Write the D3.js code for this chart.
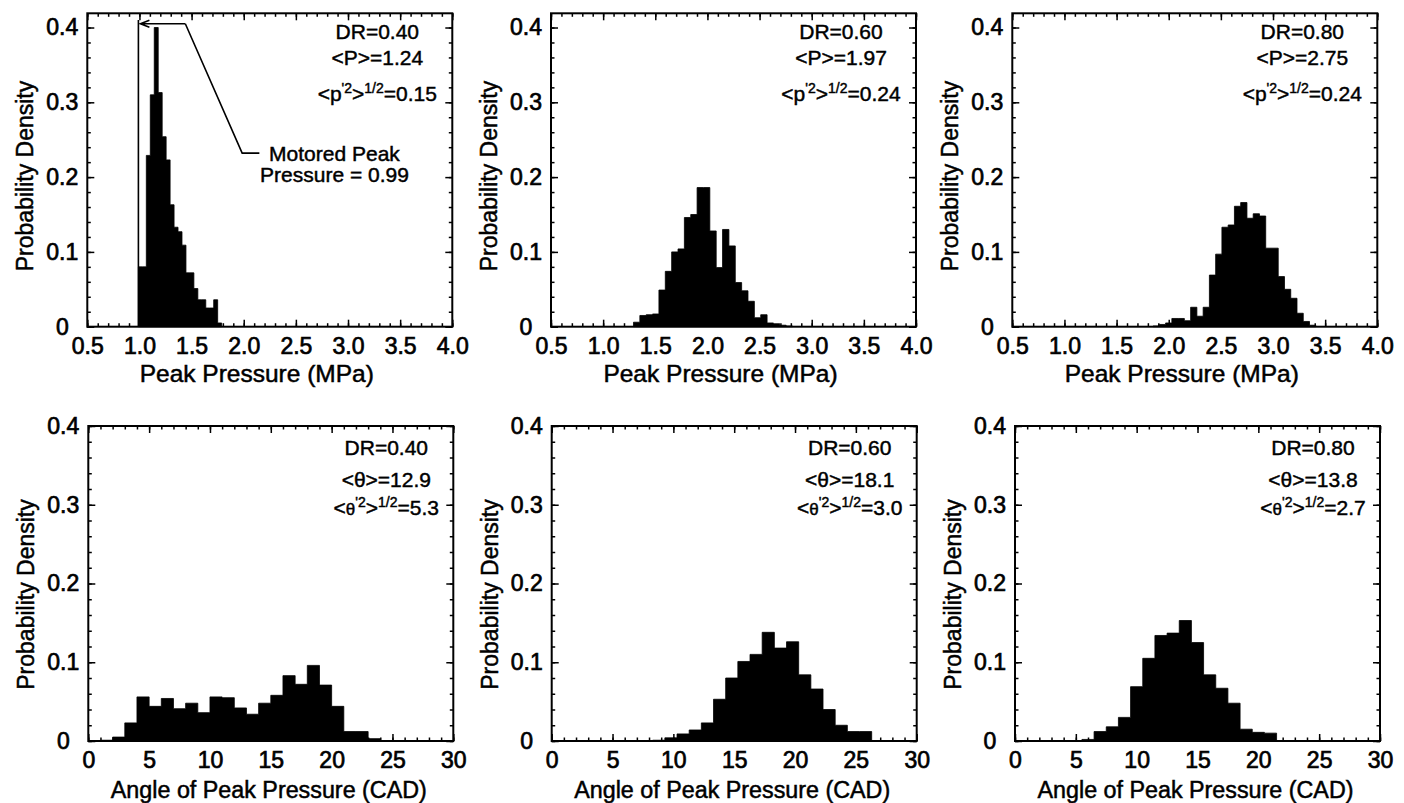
<!DOCTYPE html>
<html lang="en">
<head>
<meta charset="utf-8">
<title>Peak pressure histograms</title>
<script src="https://cdn.jsdelivr.net/npm/d3@7"></script>
<style>
    body { margin: 0; background: #fff; }
    svg { font-family: "Liberation Sans", Arial, Helvetica, sans-serif; }
    .tick text { font-size: 23px; fill: #000; stroke: #000; stroke-width: 0.7px; }
    .tick line { stroke: #000; stroke-width: 1.5px; }
    .frame { fill: none; stroke: #000; stroke-width: 2px; }
    .hist { fill: #000; stroke: #000; stroke-width: 0.8px; }
    .title { fill: #000; stroke: #000; stroke-width: 0.5px; }
    .stat { font-size: 21px; fill: #000; stroke: #000; stroke-width: 0.45px; }
    .note { fill: none; stroke: #000; stroke-width: 1.6px; }
</style>
</head>
<body>
<script>

    // ---- data ----
    var drLabels = ["DR=0.40", "DR=0.60", "DR=0.80"];
    var pMean = ["1.24", "1.97", "2.75"];
    var pRms = ["0.15", "0.24", "0.24"];
    var thMean = ["12.9", "18.1", "13.8"];
    var thRms = ["5.3", "3.0", "2.7"];

    // peak pressure histograms (MPa): first bin edge, bin width, densities
    var pBinStart = [0.99, 1.291, 1.85];
    var pBinWidth = [0.038, 0.061, 0.06];
    var pDensity040 = [0.080, 0.080, 0.229, 0.310, 0.400, 0.313, 0.254, 0.223, 0.163, 0.133,
                       0.127, 0.109, 0.072, 0.072, 0.051, 0.036, 0.036, 0.025, 0.025, 0.036, 0.005];
    var pDensity060 = [0.006, 0.015, 0.016, 0.017, 0.049, 0.074, 0.100, 0.104, 0.146, 0.150,
                       0.186, 0.186, 0.128, 0.079, 0.130, 0.108, 0.059, 0.048, 0.034, 0.012,
                       0.016, 0.005, 0.004, 0.002, 0.001];
    var pDensity080 = [0.001, 0.003, 0.005, 0.011, 0.011, 0.008, 0.026, 0.014, 0.026, 0.069,
                       0.097, 0.133, 0.136, 0.161, 0.166, 0.145, 0.151, 0.148, 0.105, 0.105,
                       0.067, 0.050, 0.038, 0.018, 0.007, 0.002];

    // angle of peak pressure histograms (CAD)
    var aBinStart = [1, 8.3, 5.5];
    var aBinWidth = [1, 1, 1];
    var aDensity040 = [0.001, 0.005, 0.023, 0.056, 0.044, 0.054, 0.041, 0.048, 0.036, 0.056,
                       0.055, 0.042, 0.034, 0.048, 0.058, 0.083, 0.072, 0.096, 0.071, 0.044,
                       0.012, 0.012, 0.003];
    var aDensity060 = [0.001, 0.004, 0.009, 0.014, 0.023, 0.053, 0.080, 0.101, 0.110, 0.138,
                       0.118, 0.126, 0.084, 0.066, 0.040, 0.020, 0.012, 0.012];
    var aDensity080 = [0.002, 0.012, 0.018, 0.030, 0.069, 0.105, 0.134, 0.137, 0.153, 0.125,
                       0.084, 0.067, 0.048, 0.015, 0.011, 0.010];

    var pTicks = [0.5, 1.0, 1.5, 2.0, 2.5, 3.0, 3.5, 4.0];
    var aTicks = [0, 5, 10, 15, 20, 25, 30];
    var yTicks = [0, 0.1, 0.2, 0.3, 0.4];

    // motored peak pressure marker (data units of the first panel)
    var motoredPeak = 0.99;
    var noteLine = [[1.44, 0.405], [1.985, 0.232], [2.15, 0.232]];
    var noteText = ["Motored Peak", "Pressure = 0.99"];

    // ---- layout ----
    var W = 1404, H = 803, pw = 365;
    var rows = [
        {top: 13.3, h: 313.4, ymax: 0.419, xdom: [0.5, 4.0], xt: pTicks, minor: 0.1, fmt: d3.format(".1f"),
         xtitle: "Peak Pressure (MPa)", titleSize: 24.5, titleDx: -13, titleDy: 55, statDx: -75, statDy: [26, 52, 88],
         lefts: [87.3, 551, 1012.3]},
        {top: 426, h: 315, ymax: 0.4, xdom: [0, 30], xt: aTicks, minor: 1, fmt: d3.format("d"),
         xtitle: "Angle of Peak Pressure (CAD)", titleSize: 23.3, titleDx: -2, titleDy: 57, statDx: -67, statDy: [29, 61, 89],
         lefts: [88.3, 551.7, 1015]}
    ];

    var panels = [
        {row: 0, col: 0, start: pBinStart[0], width: pBinWidth[0], values: pDensity040, dr: drLabels[0], sym: "P", sub: "p", mean: pMean[0], rms: pRms[0]},
        {row: 0, col: 1, start: pBinStart[1], width: pBinWidth[1], values: pDensity060, dr: drLabels[1], sym: "P", sub: "p", mean: pMean[1], rms: pRms[1]},
        {row: 0, col: 2, start: pBinStart[2], width: pBinWidth[2], values: pDensity080, dr: drLabels[2], sym: "P", sub: "p", mean: pMean[2], rms: pRms[2]},
        {row: 1, col: 0, start: aBinStart[0], width: aBinWidth[0], values: aDensity040, dr: drLabels[0], sym: "θ", sub: "θ", mean: thMean[0], rms: thRms[0]},
        {row: 1, col: 1, start: aBinStart[1], width: aBinWidth[1], values: aDensity060, dr: drLabels[1], sym: "θ", sub: "θ", mean: thMean[1], rms: thRms[1]},
        {row: 1, col: 2, start: aBinStart[2], width: aBinWidth[2], values: aDensity080, dr: drLabels[2], sym: "θ", sub: "θ", mean: thMean[2], rms: thRms[2]}
    ];

    var svg = d3.select("body").append("svg")
            .attr("width", W)
            .attr("height", H);

    panels.forEach(function(p) {
        var r = rows[p.row];
        var left = r.lefts[p.col], top = r.top, h = r.h;

        var x = d3.scaleLinear().domain(r.xdom).range([0, pw]);
        var y = d3.scaleLinear().domain([0, r.ymax]).range([h, 0]);

        var g = svg.append("g")
                .attr("transform", "translate(" + left + "," + top + ")");

        // histogram as a filled step outline
        var steps = p.values.map(function(v, i) { return [p.start + i * p.width, v]; });
        steps.push([p.start + p.values.length * p.width, p.values[p.values.length - 1]]);

        var area = d3.area()
                .curve(d3.curveStepAfter)
                .x(function(d) { return x(d[0]); })
                .y0(y(0))
                .y1(function(d) { return y(d[1]); });

        g.append("path")
                .datum(steps)
                .attr("class", "hist")
                .attr("d", area);

        // minor ticks
        var xMinor = d3.range(r.xdom[0], r.xdom[1] + 1e-9, r.minor);
        var yMinor = d3.range(0, r.ymax + 1e-9, 0.02);
        g.append("g").attr("transform", "translate(0," + h + ")")
                .call(d3.axisBottom(x).tickValues(xMinor).tickSize(-3.5).tickFormat(""));
        g.append("g")
                .call(d3.axisTop(x).tickValues(xMinor).tickSize(-3.5).tickFormat(""));
        g.append("g")
                .call(d3.axisLeft(y).tickValues(yMinor).tickSize(-3.5).tickFormat(""));
        g.append("g").attr("transform", "translate(" + pw + ",0)")
                .call(d3.axisRight(y).tickValues(yMinor).tickSize(-3.5).tickFormat(""));

        // major ticks
        g.append("g").attr("transform", "translate(0," + h + ")")
                .call(d3.axisBottom(x).tickValues(r.xt).tickSize(-7).tickPadding(11).tickFormat(r.fmt));
        g.append("g")
                .call(d3.axisTop(x).tickValues(r.xt).tickSize(-7).tickFormat(""));
        g.append("g").attr("class", "yaxis")
                .call(d3.axisLeft(y).tickValues(yTicks).tickSize(-7).tickFormat(function(d) { return d === 0 ? "0" : d3.format(".1f")(d); }));
        g.append("g").attr("transform", "translate(" + pw + ",0)")
                .call(d3.axisRight(y).tickValues(yTicks).tickSize(-7).tickFormat(""));

        g.selectAll(".domain").remove();
        g.selectAll(".tick text").attr("font-family", null).attr("font-size", null);
        g.select(".yaxis").selectAll(".tick text")
                .attr("text-anchor", "middle")
                .attr("x", -25);

        // frame
        g.append("rect")
                .attr("class", "frame")
                .attr("width", pw)
                .attr("height", h);

        // axis titles
        g.append("text")
                .attr("class", "title")
                .attr("text-anchor", "middle")
                .style("font-size", r.titleSize + "px")
                .attr("x", pw / 2 + r.titleDx)
                .attr("y", h + r.titleDy)
                .text(r.xtitle);

        g.append("text")
                .attr("class", "title")
                .attr("text-anchor", "middle")
                .style("font-size", "23px")
                .attr("transform", "translate(" + (-54) + "," + (h / 2 + (p.row === 0 ? 6 : 11)) + ") rotate(-90)")
                .text("Probability Density");

        // statistics
        var sx = pw + r.statDx;
        g.append("text").attr("class", "stat").attr("text-anchor", "middle")
                .attr("x", sx).attr("y", r.statDy[0]).text(p.dr);
        g.append("text").attr("class", "stat").attr("text-anchor", "middle")
                .attr("x", sx).attr("y", r.statDy[1]).text("<" + p.sym + ">=" + p.mean);

        var t = g.append("text").attr("class", "stat").attr("text-anchor", "middle")
                .attr("x", sx).attr("y", r.statDy[2]);
        t.append("tspan").text("<");
        t.append("tspan").text(p.sub).style("font-size", p.row === 0 ? "21px" : "17px");
        t.append("tspan").attr("dy", -8).style("font-size", "14px").text("'2");
        t.append("tspan").attr("dy", 8).text(">");
        t.append("tspan").attr("dy", -8).style("font-size", "14px").text("1/2");
        t.append("tspan").attr("dy", 8).text("=" + p.rms);

        // motored peak pressure marker in the first panel
        if (p.row === 0 && p.col === 0) {
            g.append("line")
                    .attr("class", "note")
                    .attr("x1", x(motoredPeak)).attr("x2", x(motoredPeak))
                    .attr("y1", y(0)).attr("y2", y(0.41));

            var tipX = x(motoredPeak) + 2, tipY = y(noteLine[0][1]);
            g.append("path")
                    .attr("class", "note")
                    .attr("d", "M" + x(noteLine[0][0]) + "," + tipY + "H" + tipX
                            + "M" + (tipX + 9) + "," + (tipY - 3.5) + "L" + tipX + "," + tipY + "L" + (tipX + 9) + "," + (tipY + 3.5));

            g.append("path")
                    .attr("class", "note")
                    .attr("d", d3.line()
                            .x(function(d) { return x(d[0]); })
                            .y(function(d) { return y(d[1]); })(noteLine));

            g.selectAll("text.motored")
                    .data(noteText)
                    .enter().append("text")
                    .attr("class", "stat motored")
                    .attr("text-anchor", "middle")
                    .attr("x", x(2.87))
                    .attr("y", function(d, i) { return y(i === 0 ? 0.222 : 0.193); })
                    .text(function(d) { return d; });
        }
    });

</script>
</body>
</html>
